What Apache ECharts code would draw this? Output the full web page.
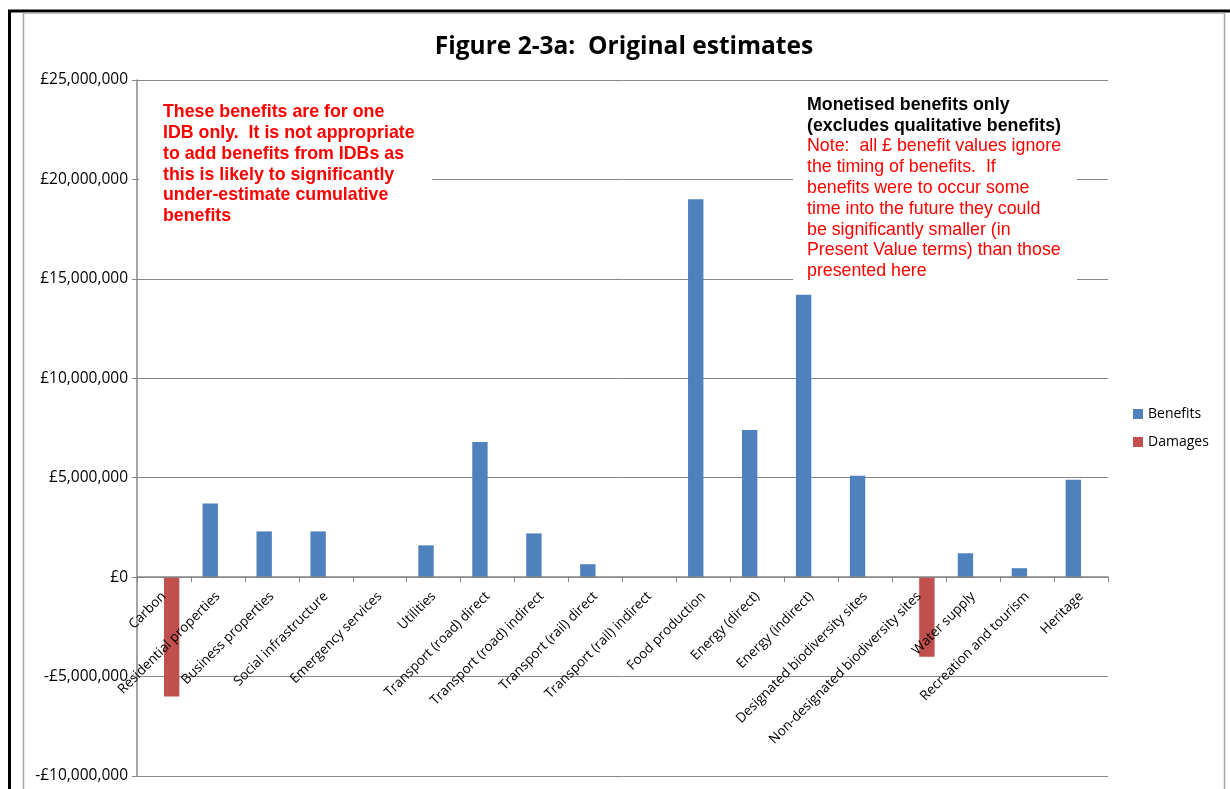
<!DOCTYPE html>
<html><head><meta charset="utf-8">
<script src="https://cdn.jsdelivr.net/npm/echarts@6/dist/echarts.min.js"></script>
<style>html,body{margin:0;padding:0;background:#fff}#c{width:1230px;height:789px}</style>
</head><body><div id="c"></div>
<script>
const categories = ['Carbon','Residential properties','Business properties','Social infrastructure','Emergency services','Utilities','Transport (road) direct','Transport (road) indirect','Transport (rail) direct','Transport (rail) indirect','Food production','Energy (direct)','Energy (indirect)','Designated biodiversity sites','Non-designated biodiversity sites','Water supply','Recreation and tourism','Heritage'];
const benefits = [0, 3700000, 2300000, 2300000, 0, 1600000, 6800000, 2200000, 650000, 0, 19000000, 7400000, 14200000, 5100000, 0, 1200000, 450000, 4900000];
const damages = [-6000000, 0, 0, 0, 0, 0, 0, 0, 0, 0, 0, 0, 0, 0, -4000000, 0, 0, 0];
const yTicks = [-10000000, -5000000, 0, 5000000, 10000000, 15000000, 20000000, 25000000];
const titleText = 'Figure 2-3a:  Original estimates';
const noteLeft = 'These benefits are for one\nIDB only.  It is not appropriate\nto add benefits from IDBs as\nthis is likely to significantly\nunder-estimate cumulative\nbenefits';
const noteRightBold = 'Monetised benefits only\n(excludes qualitative benefits)';
const noteRight = 'Note:  all £ benefit values ignore\nthe timing of benefits.  If\nbenefits were to occur some\ntime into the future they could\nbe significantly smaller (in\nPresent Value terms) than those\npresented here';

function fmt(v){
  const s = Math.abs(v).toLocaleString('en-GB');
  return (v < 0 ? '-£' : '£') + s;
}
const chart = echarts.init(document.getElementById('c'), null, {renderer:'canvas'});
const gridCol = '#868686';
const GRID_TOP = 80, GRID_BOTTOM = 13, H = 789;
chart.setOption({
  animation:false,
  textStyle:{fontFamily:'Open Sans'},
  title:{text:titleText, left:619, top:30, textAlign:'center',
    textStyle:{fontFamily:'Open Sans', fontWeight:'bold', fontSize:24.5, color:'#000'}},
  legend:{orient:'vertical', left:1128, top:402, itemWidth:10, itemHeight:10, itemGap:14,
    icon:'rect', textStyle:{fontFamily:'Open Sans', fontSize:14, color:'#000'},
    data:['Benefits','Damages']},
  grid:{left:137, right:122, top:GRID_TOP, bottom:GRID_BOTTOM, containLabel:false, outerBoundsMode:'none'},
  xAxis:{type:'category', data:categories, position:'bottom', offset:0, z:5,
    axisLine:{onZero:false, lineStyle:{color:gridCol, width:1.5}},
    axisTick:{show:true, alignWithLabel:false, length:5, lineStyle:{color:gridCol}},
    axisLabel:{interval:0, rotate:45, fontSize:13.5, color:'#000', margin:17, fontFamily:'Open Sans'}},
  yAxis:{type:'value', min:-10000000, max:25000000, interval:5000000,
    axisLine:{show:true, lineStyle:{color:gridCol, width:1.5}},
    axisTick:{show:true, length:5, lineStyle:{color:gridCol}},
    splitLine:{show:true, lineStyle:{color:gridCol, width:1}},
    axisLabel:{formatter:fmt, fontSize:15.5, color:'#000', margin:9, fontFamily:'Open Sans',
      customValues: yTicks}},
  series:[
    {name:'Benefits', type:'bar', data:benefits, barGap:'0%', barCategoryGap:'43%',
      itemStyle:{color:'#4F81BD'}},
    {name:'Damages', type:'bar', data:damages, itemStyle:{color:'#C0504D'}}
  ],
  graphic:[
    {type:'rect', z:50, shape:{x:139, y:95, width:293, height:130}, style:{fill:'#fff'}},
    {type:'text', z:51, left:163, top:102, style:{text:noteLeft, fill:'#ff0000',
      font:'bold 17.8px "Liberation Sans", Arial, sans-serif', lineHeight:20.8}},
    {type:'rect', z:50, shape:{x:793, y:92, width:284, height:193}, style:{fill:'#fff'}},
    {type:'text', z:51, left:807, top:94.5, style:{text:noteRightBold, fill:'#000',
      font:'bold 17.8px "Liberation Sans", Arial, sans-serif', lineHeight:20.8}},
    {type:'text', z:51, left:807, top:136.1, style:{text:noteRight, fill:'#ff0000',
      font:'17.8px "Liberation Sans", Arial, sans-serif', lineHeight:20.8}},
    {type:'line', z:60, shape:{x1:8, y1:11, x2:1230, y2:11}, style:{stroke:'#000', lineWidth:3}},
    {type:'line', z:60, shape:{x1:9.5, y1:10, x2:9.5, y2:789}, style:{stroke:'#000', lineWidth:3}},
    {type:'line', z:60, shape:{x1:23.5, y1:13, x2:1224.5, y2:13}, style:{stroke:'#a6a6a6', lineWidth:1.5}},
    {type:'line', z:60, shape:{x1:23.5, y1:13, x2:23.5, y2:789}, style:{stroke:'#a6a6a6', lineWidth:1.5}},
    {type:'line', z:60, shape:{x1:1224.5, y1:13, x2:1224.5, y2:789}, style:{stroke:'#a6a6a6', lineWidth:1.5}}
  ]
});
// move the category axis (line, ticks, labels) up to the zero line, like the original
const zeroY = chart.convertToPixel({yAxisIndex:0}, 0);
const bottomY = H - GRID_BOTTOM;
chart.setOption({xAxis:{offset: zeroY - bottomY}});
</script></body></html>
